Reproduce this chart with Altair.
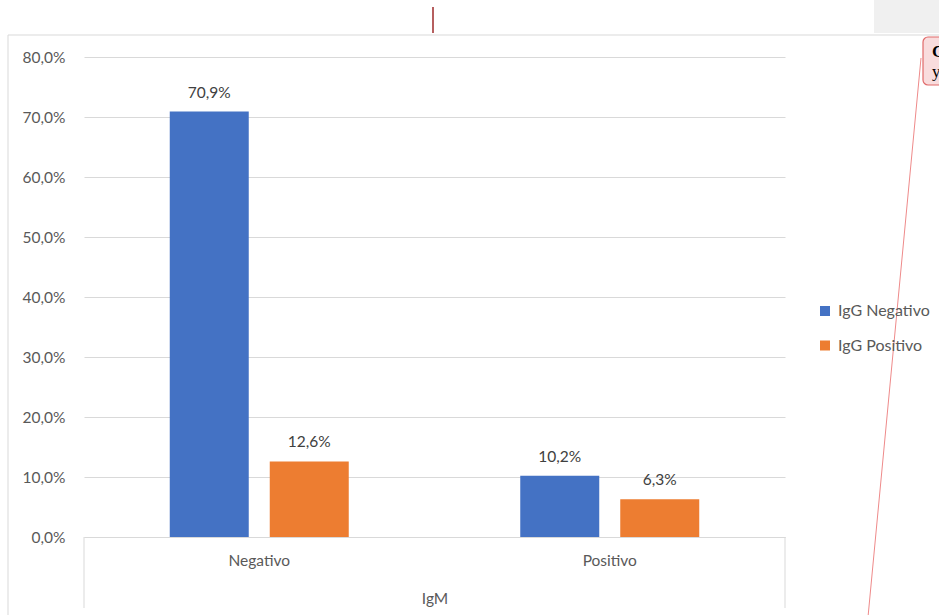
import altair as alt
import pandas as pd

# IgM result on the x axis, IgG result as the series
igm_groups = ["Negativo", "Positivo"]
igg_series = ["IgG Negativo", "IgG Positivo"]
share_igg_neg = [0.709, 0.102]
share_igg_pos = [0.126, 0.063]
series_colors = ["#4472C4", "#ED7D31"]

rows = []
for i, grp in enumerate(igm_groups):
    for s, vals in zip(igg_series, [share_igg_neg, share_igg_pos]):
        v = vals[i]
        rows.append({"IgM": grp, "serie": s, "valor": v,
                     "etiqueta": f"{v * 100:.1f}%".replace(".", ",")})
df = pd.DataFrame(rows)

FONT = "Lato"
GREY_TXT = "#595959"
LINE = "#d9d9d9"
FS = 15.5

base = alt.Chart(df)

x_enc = alt.X("IgM:N", sort=igm_groups,
              scale=alt.Scale(paddingInner=0, paddingOuter=0),
              axis=alt.Axis(title="IgM", labelAngle=0, ticks=False,
                            domainColor=LINE, labelPadding=16,
                            labelFontSize=FS, labelColor=GREY_TXT,
                            labelFont=FONT, titleFont=FONT,
                            titleFontSize=FS, titleFontWeight="normal",
                            titleColor=GREY_TXT, titleY=61,
                            titleBaseline="middle"))
y_enc = alt.Y("valor:Q", scale=alt.Scale(domain=[0, 0.8], nice=False),
              axis=alt.Axis(title=None, values=[i / 10 for i in range(9)],
                            labelExpr="replace(format(datum.value, '.1%'), '.', ',')",
                            domain=False, ticks=False, gridColor=LINE,
                            labelPadding=19, labelFontSize=FS,
                            labelColor=GREY_TXT, labelFont=FONT))
xoff = alt.XOffset("serie:N", sort=igg_series,
                   scale=alt.Scale(paddingInner=0.21, paddingOuter=0.8575))

bars = base.mark_bar().encode(
    x=x_enc, y=y_enc, xOffset=xoff,
    color=alt.Color("serie:N", sort=igg_series,
                    scale=alt.Scale(domain=igg_series, range=series_colors),
                    legend=alt.Legend(title=None, orient="none",
                                      legendX=733, legendY=246,
                                      symbolType="square", symbolSize=100,
                                      symbolStrokeWidth=0, labelFontSize=16,
                                      labelColor=GREY_TXT, labelFont=FONT,
                                      labelOffset=5, rowPadding=18.5,
                                      padding=0)),
)

labels = base.mark_text(baseline="middle", dy=-19, fontSize=FS,
                        font=FONT, color="#404040").encode(
    x=alt.X("IgM:N", sort=igm_groups), y="valor:Q", xOffset=xoff,
    text="etiqueta:N",
)

one = pd.DataFrame({"k": [0]})

# Category frame below the plot area
frame = alt.Chart(one).mark_rule(color=LINE, strokeWidth=1)
div_left = frame.encode(x=alt.value(0), y=alt.value(480), y2=alt.value(551))
div_right = frame.encode(x=alt.value(701), y=alt.value(480), y2=alt.value(551))

# Outer chart border
border_left = frame.encode(x=alt.value(-76), y=alt.value(-22), y2=alt.value(560))
border_top = frame.encode(x=alt.value(-76), x2=alt.value(860), y=alt.value(-22))

# Surrounding worksheet elements
grey_cell = alt.Chart(one).mark_rect(color="#f0f0f0").encode(
    x=alt.value(790), x2=alt.value(860), y=alt.value(-60), y2=alt.value(-24))
cursor = alt.Chart(one).mark_rule(color="#9e2a2a", strokeWidth=1.5).encode(
    x=alt.value(349), y=alt.value(-50), y2=alt.value(-24))
leader = alt.Chart(one).mark_rule(color="#ee8a8a", strokeWidth=1).encode(
    x=alt.value(837), x2=alt.value(784), y=alt.value(1), y2=alt.value(560))
note_box = alt.Chart(one).mark_rect(fill="#f9dcdd", stroke="#e06a6a",
                                    strokeWidth=1.2, cornerRadius=5).encode(
    x=alt.value(839), x2=alt.value(880), y=alt.value(-20), y2=alt.value(28))
note_c = alt.Chart(one).mark_text(text="C", font="Liberation Serif",
                                  fontWeight="bold", fontSize=17,
                                  align="left", baseline="alphabetic",
                                  color="#000000").encode(
    x=alt.value(848), y=alt.value(0))
note_y = alt.Chart(one).mark_text(text="y", font="Liberation Serif",
                                  fontSize=17, align="left",
                                  baseline="alphabetic",
                                  color="#000000").encode(
    x=alt.value(848), y=alt.value(20))

chart = alt.layer(
    grey_cell, border_left, border_top, bars, labels, div_left, div_right,
    leader, note_box, note_c, note_y, cursor,
).properties(
    width=701, height=480,
    autosize=alt.AutoSizeParams(type="none"),
    padding={"left": 84, "top": 57, "right": 154, "bottom": 78},
    background="white",
).configure_view(stroke=None)

chart.save("out.html", embed_options={"renderer": "svg", "actions": False})
